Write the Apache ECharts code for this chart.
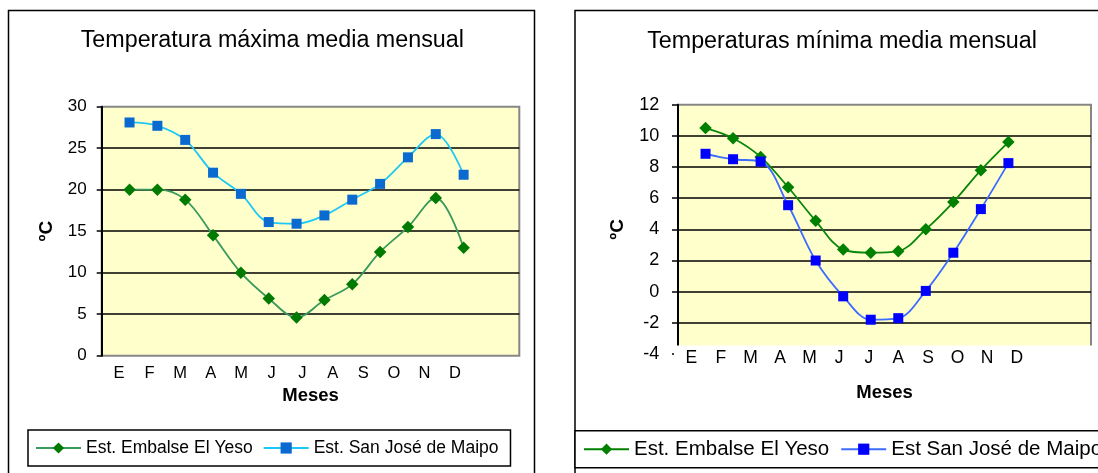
<!DOCTYPE html>
<html>
<head>
<meta charset="utf-8">
<script src="https://cdn.jsdelivr.net/npm/echarts@6/dist/echarts.min.js"></script>
<style>
  html, body { margin: 0; padding: 0; background: #ffffff; }
  #chart { width: 1098px; height: 473px; }
</style>
</head>
<body>
<div id="chart"></div>
<script>
// Month initials shown under each plot
const months = ['E', 'F', 'M', 'A', 'M', 'J', 'J', 'A', 'S', 'O', 'N', 'D'];

// Temperatura máxima media mensual (ºC)
const maxYeso  = [20.0, 20.0, 18.8, 14.5, 10.0, 6.9, 4.6, 6.7, 8.6, 12.5, 15.5, 19.0, 13.0];
const maxMaipo = [28.1, 27.7, 26.0, 22.05, 19.5, 16.1, 15.9, 16.9, 18.8, 20.7, 23.9, 26.7, 21.8];

// Temperaturas mínima media mensual (ºC)
const minYeso  = [10.5, 9.85, 8.65, 6.7, 4.55, 2.7, 2.5, 2.6, 4.0, 5.75, 7.8, 9.6];
const minMaipo = [8.85, 8.5, 8.35, 5.55, 2.0, -0.3, -1.8, -1.7, 0.05, 2.5, 5.3, 8.25];

// Axis ticks
const maxTicks = { min: 0, max: 30, step: 5 };
const minTicks = { min: -4, max: 12, step: 2 };

const FONT = '"Liberation Sans", Arial, Helvetica, sans-serif';
const toPoints = arr => arr.map((v, i) => [i + 1, v]);
const monthSlots = months.map((m, i) => i + 1);

const chart = echarts.init(document.getElementById('chart'), null, { renderer: 'canvas' });

function valueAxisY(grid, ticks, fontSize, margin, nameGap, tickLen) {
  return {
    gridIndex: grid, type: 'value',
    min: ticks.min, max: ticks.max, interval: ticks.step,
    axisLine: { show: true, onZero: false, lineStyle: { color: '#000', width: 2 } },
    axisTick: { show: true, length: tickLen, lineStyle: { color: '#000', width: 1.5 } },
    axisLabel: { color: '#000', fontSize: fontSize, fontFamily: FONT, margin: margin },
    splitLine: { show: true, showMinLine: false, showMaxLine: false,
                 lineStyle: { color: '#000', width: 1.5 } },
    name: 'ºC', nameLocation: 'middle', nameRotate: 90, nameGap: nameGap,
    nameTextStyle: { color: '#000', fontSize: 19, fontWeight: 'bold', fontFamily: FONT }
  };
}

function dataAxisX(grid) {
  return { gridIndex: grid, type: 'value', position: 'top', min: 0, max: 15, show: false };
}

function monthAxis(grid, min, max, fontSize, margin, nameGap) {
  return {
    gridIndex: grid, type: 'value', position: 'bottom', min: min, max: max, z: 60,
    axisLine: { show: false, onZero: false },
    axisTick: { show: false },
    splitLine: { show: false },
    axisLabel: {
      customValues: monthSlots,
      formatter: v => months[Math.round(v) - 1] || '',
      color: '#000', fontSize: fontSize, fontFamily: FONT, margin: margin
    },
    name: 'Meses', nameLocation: 'middle', nameGap: nameGap,
    nameTextStyle: { color: '#000', fontSize: 18.5, fontWeight: 'bold', fontFamily: FONT }
  };
}

function lineSeries(name, data, xi, yi, symbol, size, lineColor, markColor) {
  return {
    name: name, type: 'line', xAxisIndex: xi, yAxisIndex: yi,
    data: toPoints(data), smooth: 0.35,
    symbol: symbol, symbolSize: size, showAllSymbol: true,
    lineStyle: { color: lineColor, width: 1.8 },
    itemStyle: { color: markColor, borderWidth: 0 },
    emphasis: { disabled: true }, z: 3
  };
}

const option = {
  animation: false,
  backgroundColor: '#ffffff',
  textStyle: { fontFamily: FONT },
  grid: [
    { left: 101.7, top: 106.7, width: 417.6, height: 249, show: true,
      backgroundColor: '#FFFFCC', borderColor: '#868686', borderWidth: 2 },
    { left: 678, top: 104.7, width: 413, height: 249.3, show: true,
      backgroundColor: '#FFFFCC', borderColor: '#868686', borderWidth: 2 }
  ],
  xAxis: [
    dataAxisX(0),
    monthAxis(0, 0.43, 14.11, 16.5, 9, 23.5),
    dataAxisX(1),
    monthAxis(1, 0.55, 14.51, 17.5, -5, 29.5)
  ],
  yAxis: [
    valueAxisY(0, maxTicks, 17, 15, 45, 5),
    valueAxisY(1, minTicks, 18, 18.7, 51, 6)
  ],
  legend: [
    {
      left: 28, top: 430, padding: [8, 12, 8, 7],
      itemWidth: 45, itemHeight: 14, itemGap: 10,
      borderColor: '#000', borderWidth: 1.5, backgroundColor: '#fff',
      textStyle: { color: '#000', fontSize: 17.5, lineHeight: 20, fontFamily: FONT },
      selectedMode: false,
      data: ['Est. Embalse El Yeso', 'Est. San José de Maipo']
    },
    {
      left: 575, top: 430.7, width: 620, padding: [8, 8, 8, 8],
      itemWidth: 45, itemHeight: 14, itemGap: 11,
      borderColor: '#000', borderWidth: 1.5, backgroundColor: '#fff',
      textStyle: { color: '#000', fontSize: 20.5, lineHeight: 21, fontFamily: FONT },
      selectedMode: false,
      data: [
        { name: 'Est. Embalse El Yeso',
          itemStyle: { color: '#008000' }, lineStyle: { color: '#008000' } },
        'Est San José de Maipo'
      ]
    }
  ],
  graphic: [
    // chart frames
    { type: 'rect', silent: true, z: 1,
      shape: { x: 8.5, y: 10.5, width: 526, height: 520 },
      style: { fill: 'none', stroke: '#000', lineWidth: 1.5 } },
    { type: 'rect', silent: true, z: 1,
      shape: { x: 575, y: 10.5, width: 600, height: 520 },
      style: { fill: 'none', stroke: '#000', lineWidth: 1.5 } },
    // lower strip of the second plot area is left blank
    { type: 'rect', silent: true, z: 50,
      shape: { x: 674, y: 345.5, width: 422, height: 11 },
      style: { fill: '#ffffff' } },
    // titles
    { type: 'text', silent: true, z: 10, x: 272.3, y: 40.7,
      style: { text: 'Temperatura máxima media mensual', fill: '#000',
               font: '23.3px ' + FONT, align: 'center', verticalAlign: 'middle',
               textAlign: 'center', textVerticalAlign: 'middle' } },
    { type: 'text', silent: true, z: 10, x: 842, y: 41.2,
      style: { text: 'Temperaturas mínima media mensual', fill: '#000',
               font: '23.3px ' + FONT, align: 'center', verticalAlign: 'middle',
               textAlign: 'center', textVerticalAlign: 'middle' } }
  ],
  series: [
    lineSeries('Est. Embalse El Yeso', maxYeso, 0, 0, 'diamond', 12.5, '#3A9A5C', '#007A00'),
    lineSeries('Est. San José de Maipo', maxMaipo, 0, 0, 'rect', 10, '#1EC8F5', '#0A6AD0'),
    lineSeries('Est. Embalse El Yeso', minYeso, 2, 1, 'diamond', 12.5, '#0A870A', '#008000'),
    lineSeries('Est San José de Maipo', minMaipo, 2, 1, 'rect', 10, '#3D6BFF', '#0000FF')
  ]
};

chart.setOption(option);
</script>
</body>
</html>
